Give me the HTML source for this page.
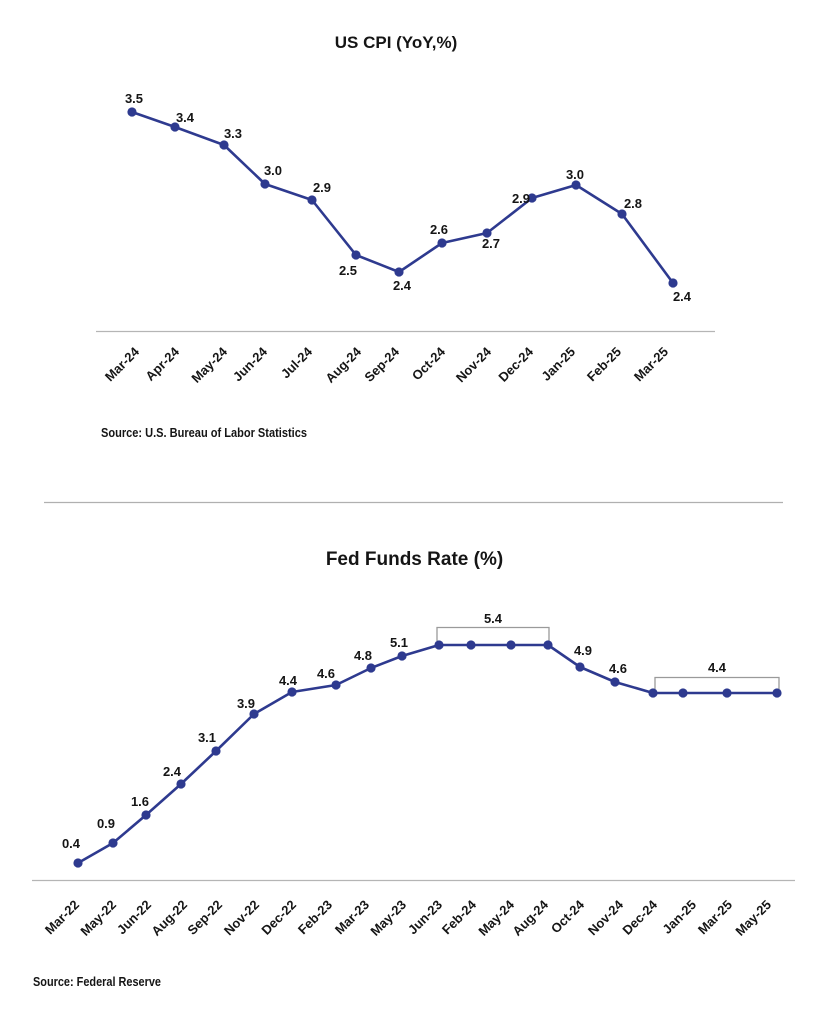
<!DOCTYPE html>
<html>
<head>
<meta charset="utf-8">
<style>
html,body{margin:0;padding:0;background:#fff;}
svg{display:block;}
text{font-family:"Liberation Sans",Arial,sans-serif;font-weight:bold;fill:#151515;}
.t{font-size:13px;}
.d{font-size:13px;text-anchor:middle;}
</style>
</head>
<body>
<svg width="829" height="1024" viewBox="0 0 829 1024" xmlns="http://www.w3.org/2000/svg">
<rect width="829" height="1024" fill="#fff"/>

<!-- CPI chart -->
<text x="396" y="48" font-size="17" text-anchor="middle">US CPI (YoY,%)</text>
<line x1="96" y1="331.5" x2="715" y2="331.5" stroke="#b5b5b5" stroke-width="1.3"/>
<polyline fill="none" stroke="#2e3a8f" stroke-width="2.6" stroke-linejoin="round"
 points="132,112 175,127 224,145 265,184 312,200 356,255 399,272 442,243 487,233 532,198 576,185 622,214 673,283"/>
<g fill="#2e3a8f">
<circle cx="132" cy="112" r="4.6"/><circle cx="175" cy="127" r="4.6"/><circle cx="224" cy="145" r="4.6"/>
<circle cx="265" cy="184" r="4.6"/><circle cx="312" cy="200" r="4.6"/><circle cx="356" cy="255" r="4.6"/>
<circle cx="399" cy="272" r="4.6"/><circle cx="442" cy="243" r="4.6"/><circle cx="487" cy="233" r="4.6"/>
<circle cx="532" cy="198" r="4.6"/><circle cx="576" cy="185" r="4.6"/><circle cx="622" cy="214" r="4.6"/>
<circle cx="673" cy="283" r="4.6"/>
</g>
<text class="d" x="134" y="103">3.5</text>
<text class="d" x="185" y="122">3.4</text>
<text class="d" x="233" y="138">3.3</text>
<text class="d" x="273" y="175">3.0</text>
<text class="d" x="322" y="192">2.9</text>
<text class="d" x="348" y="275">2.5</text>
<text class="d" x="402" y="290">2.4</text>
<text class="d" x="439" y="234">2.6</text>
<text class="d" x="491" y="248">2.7</text>
<text class="d" x="521" y="203">2.9</text>
<text class="d" x="575" y="179">3.0</text>
<text class="d" x="633" y="208">2.8</text>
<text class="d" x="682" y="301">2.4</text>

<g class="t" text-anchor="end">
<text transform="translate(140,352.5) rotate(-45)">Mar-24</text>
<text transform="translate(180,352.5) rotate(-45)">Apr-24</text>
<text transform="translate(228,352.5) rotate(-45)">May-24</text>
<text transform="translate(268,352.5) rotate(-45)">Jun-24</text>
<text transform="translate(313,352.5) rotate(-45)">Jul-24</text>
<text transform="translate(362,352.5) rotate(-45)">Aug-24</text>
<text transform="translate(400,352.5) rotate(-45)">Sep-24</text>
<text transform="translate(446,352.5) rotate(-45)">Oct-24</text>
<text transform="translate(492,352.5) rotate(-45)">Nov-24</text>
<text transform="translate(534,352.5) rotate(-45)">Dec-24</text>
<text transform="translate(576,352.5) rotate(-45)">Jan-25</text>
<text transform="translate(622,352.5) rotate(-45)">Feb-25</text>
<text transform="translate(669,352.5) rotate(-45)">Mar-25</text>
</g>
<text x="101" y="437" font-size="12.5" textLength="206" lengthAdjust="spacingAndGlyphs">Source: U.S. Bureau of Labor Statistics</text>

<!-- divider -->
<line x1="44" y1="502.5" x2="783" y2="502.5" stroke="#b0b0b0" stroke-width="1.2"/>

<!-- Fed chart -->
<text x="414.5" y="565" font-size="19" text-anchor="middle">Fed Funds Rate (%)</text>
<line x1="32" y1="880.5" x2="795" y2="880.5" stroke="#b5b5b5" stroke-width="1.3"/>

<!-- brackets -->
<polyline fill="none" stroke="#9a9a9a" stroke-width="1.3" points="437,641 437,627.5 549,627.5 549,641"/>
<polyline fill="none" stroke="#9a9a9a" stroke-width="1.3" points="655,689 655,677.5 779,677.5 779,689"/>

<polyline fill="none" stroke="#2e3a8f" stroke-width="2.6" stroke-linejoin="round"
 points="78,863 113,843 146,815 181,784 216,751 254,714 292,692 336,685 371,668 402,656 439,645 471,645 511,645 548,645 580,667 615,682 653,693 683,693 727,693 777,693"/>
<g fill="#2e3a8f">
<circle cx="78" cy="863" r="4.6"/><circle cx="113" cy="843" r="4.6"/><circle cx="146" cy="815" r="4.6"/>
<circle cx="181" cy="784" r="4.6"/><circle cx="216" cy="751" r="4.6"/><circle cx="254" cy="714" r="4.6"/>
<circle cx="292" cy="692" r="4.6"/><circle cx="336" cy="685" r="4.6"/><circle cx="371" cy="668" r="4.6"/>
<circle cx="402" cy="656" r="4.6"/><circle cx="439" cy="645" r="4.6"/><circle cx="471" cy="645" r="4.6"/>
<circle cx="511" cy="645" r="4.6"/><circle cx="548" cy="645" r="4.6"/><circle cx="580" cy="667" r="4.6"/>
<circle cx="615" cy="682" r="4.6"/><circle cx="653" cy="693" r="4.6"/><circle cx="683" cy="693" r="4.6"/>
<circle cx="727" cy="693" r="4.6"/><circle cx="777" cy="693" r="4.6"/>
</g>
<text class="d" x="71" y="848">0.4</text>
<text class="d" x="106" y="828">0.9</text>
<text class="d" x="140" y="806">1.6</text>
<text class="d" x="172" y="776">2.4</text>
<text class="d" x="207" y="742">3.1</text>
<text class="d" x="246" y="708">3.9</text>
<text class="d" x="288" y="685">4.4</text>
<text class="d" x="326" y="678">4.6</text>
<text class="d" x="363" y="660">4.8</text>
<text class="d" x="399" y="647">5.1</text>
<text class="d" x="493" y="623">5.4</text>
<text class="d" x="583" y="655">4.9</text>
<text class="d" x="618" y="673">4.6</text>
<text class="d" x="717" y="672">4.4</text>

<g class="t" text-anchor="end">
<text transform="translate(80,905.5) rotate(-45)">Mar-22</text>
<text transform="translate(117,905.5) rotate(-45)">May-22</text>
<text transform="translate(152,905.5) rotate(-45)">Jun-22</text>
<text transform="translate(188,905.5) rotate(-45)">Aug-22</text>
<text transform="translate(223,905.5) rotate(-45)">Sep-22</text>
<text transform="translate(260,905.5) rotate(-45)">Nov-22</text>
<text transform="translate(297,905.5) rotate(-45)">Dec-22</text>
<text transform="translate(333,905.5) rotate(-45)">Feb-23</text>
<text transform="translate(370,905.5) rotate(-45)">Mar-23</text>
<text transform="translate(407,905.5) rotate(-45)">May-23</text>
<text transform="translate(443,905.5) rotate(-45)">Jun-23</text>
<text transform="translate(477,905.5) rotate(-45)">Feb-24</text>
<text transform="translate(515,905.5) rotate(-45)">May-24</text>
<text transform="translate(549,905.5) rotate(-45)">Aug-24</text>
<text transform="translate(585,905.5) rotate(-45)">Oct-24</text>
<text transform="translate(624,905.5) rotate(-45)">Nov-24</text>
<text transform="translate(658,905.5) rotate(-45)">Dec-24</text>
<text transform="translate(697,905.5) rotate(-45)">Jan-25</text>
<text transform="translate(733,905.5) rotate(-45)">Mar-25</text>
<text transform="translate(772,905.5) rotate(-45)">May-25</text>
</g>
<text x="33" y="986" font-size="12.5" textLength="128" lengthAdjust="spacingAndGlyphs">Source: Federal Reserve</text>
</svg>
</body>
</html>
